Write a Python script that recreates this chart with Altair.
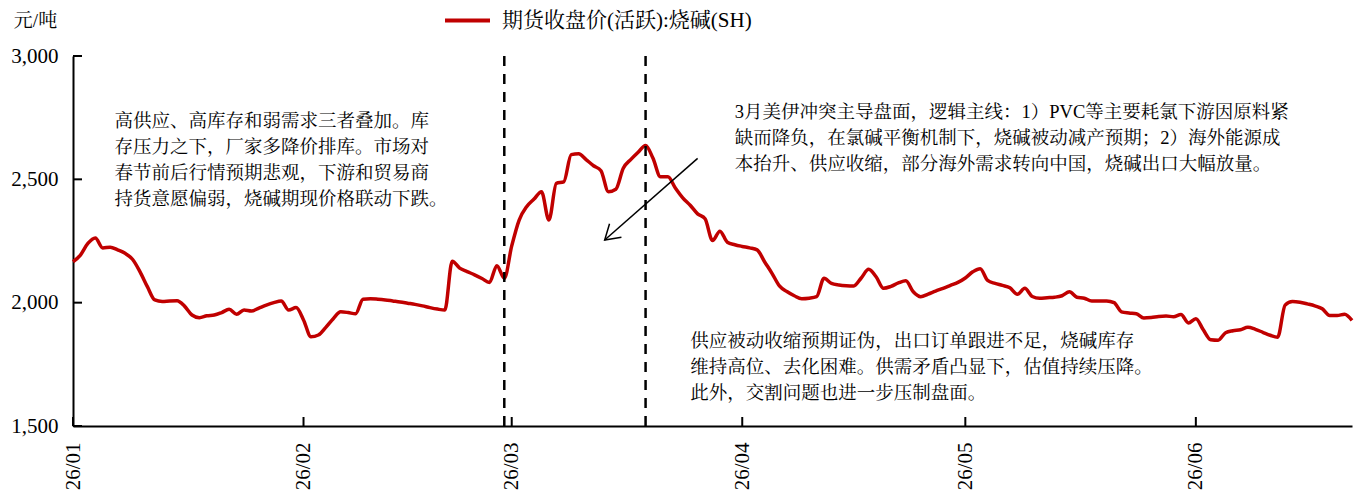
import altair as alt
import pandas as pd

# ---------------- data ----------------
start_date = "2026-01-01"
end_date = "2026-06-22"
prices = [
    # Jan
    2166, 2193, 2240, 2262, 2222, 2225, 2214, 2200, 2176, 2126,
    2065, 2011, 2005, 2007, 2008, 1986, 1950, 1939, 1947, 1950,
    1960, 1973, 1953, 1970, 1966, 1978, 1990, 2000, 2007, 1970,
    1980,
    # Feb
    1930, 1862, 1869, 1900, 1935, 1963, 1960, 1955, 2014, 2016,
    2014, 2011, 2007, 2003, 1998, 1993, 1987, 1980, 1974, 1970,
    2168, 2140, 2126, 2113, 2098, 2082, 2150, 2099,
    # Mar
    2230, 2335, 2389, 2420, 2450, 2335, 2484, 2490, 2600, 2604,
    2580, 2555, 2535, 2450, 2460, 2545, 2580, 2610, 2637, 2585,
    2510, 2510, 2465, 2425, 2395, 2360, 2340, 2252, 2290, 2245,
    2235,
    # Apr
    2228, 2222, 2214, 2166, 2119, 2068, 2045, 2028, 2016, 2018,
    2024, 2099, 2078, 2072, 2069, 2068, 2100, 2135, 2105, 2058,
    2066, 2080, 2089, 2044, 2024, 2035, 2047, 2058, 2070, 2082,
    # May
    2100, 2125, 2138, 2090, 2078, 2070, 2060, 2034, 2058, 2025,
    2018, 2020, 2022, 2028, 2044, 2022, 2018, 2007, 2007, 2007,
    2000, 1963, 1958, 1955, 1938, 1940, 1944, 1946, 1943, 1952,
    1918,
    # Jun
    1935, 1890, 1850, 1848, 1878, 1886, 1890, 1900, 1892, 1880,
    1868, 1860, 1990, 2005, 2002, 1995, 1987, 1975, 1948, 1948,
    1953, 1928,
]
series_name = "期货收盘价(活跃):烧碱(SH)"
y_ticks = [1500, 2000, 2500, 3000]
x_ticks = ["2026-01-01", "2026-02-01", "2026-03-01", "2026-04-01", "2026-05-01", "2026-06-01"]
event_dates = ["2026-02-28", "2026-03-19"]

notes = [
    "高供应、高库存和弱需求三者叠加。库\n存压力之下，厂家多降价排库。市场对\n春节前后行情预期悲观，下游和贸易商\n持货意愿偏弱，烧碱期现价格联动下跌。",
    "3月美伊冲突主导盘面，逻辑主线：1）PVC等主要耗氯下游因原料紧\n缺而降负，在氯碱平衡机制下，烧碱被动减产预期；2）海外能源成\n本抬升、供应收缩，部分海外需求转向中国，烧碱出口大幅放量。",
    "供应被动收缩预期证伪，出口订单跟进不足，烧碱库存\n维持高位、去化困难。供需矛盾凸显下，估值持续压降。\n此外，交割问题也进一步压制盘面。",
]
note_dates = ["2026-01-06 14:00", "2026-03-31 00:00", "2026-03-25 00:00"]
note_values = [2775, 2810, 1880]

arrow_from = ["2026-03-26 00:00", 2585]
arrow_to = ["2026-03-13 12:00", 2254]

# ---------------- tables ----------------
df = pd.DataFrame({
    "date": pd.date_range(start_date, end_date, freq="D"),
    "price": prices,
    "series": series_name,
})
ev_df = pd.DataFrame({"date": pd.to_datetime(event_dates)})
yt_df = pd.DataFrame({"price": y_ticks})
xt_df = pd.DataFrame({"date": pd.to_datetime(x_ticks)})
note_df = pd.DataFrame({"date": pd.to_datetime(note_dates), "price": note_values, "text": notes})
arrow_df = pd.DataFrame({
    "date": [pd.to_datetime(arrow_from[0])], "price": [arrow_from[1]],
    "date2": [pd.to_datetime(arrow_to[0])], "price2": [arrow_to[1]],
})
head_df = pd.DataFrame({"date": [pd.to_datetime(arrow_to[0])], "price": [arrow_to[1]]})

SERIF = "Liberation Serif, 'Noto Serif CJK SC', 'Noto Sans CJK SC'"
RED = "#C00000"

x_scale = alt.Scale(domain=[alt.DateTime(year=2026, month=1, date=1),
                            alt.DateTime(year=2026, month=6, date=22)], nice=False)
y_scale = alt.Scale(domain=[1500, 3000], nice=False)

x_axis = alt.Axis(
    values=[alt.DateTime(year=2026, month=m, date=1) for m in range(1, 7)],
    format="%y/%m", labelAngle=-90, labelPadding=16, labelFontSize=21, title=None,
)
y_axis = alt.Axis(
    values=y_ticks, format=",.0f", labelPadding=15, labelFontSize=21,
    title="元/吨", titleAngle=0, titleX=-38, titleY=-36,
    titleAlign="center", titleBaseline="middle",
    titleFontSize=19, titleFontWeight="normal", titleFont=SERIF,
)

line = alt.Chart(df).mark_line(strokeWidth=3.5, interpolate="monotone").encode(
    x=alt.X("date:T", scale=x_scale, axis=x_axis),
    y=alt.Y("price:Q", scale=y_scale, axis=y_axis),
    color=alt.Color("series:N", scale=alt.Scale(range=[RED]), legend=alt.Legend(
        orient="none", legendX=370, legendY=-60, title=None,
        symbolType="stroke", symbolSize=2025, symbolStrokeWidth=4,
        labelFontSize=21, labelFont=SERIF, labelOffset=10, padding=0,
        labelColor="black", labelLimit=500,
    )),
)

events = alt.Chart(ev_df).mark_rule(color="black", strokeWidth=2.5, strokeDash=[10, 8]).encode(
    x=alt.X("date:T", title=None),
)

yticks = alt.Chart(yt_df).mark_rule(color="black", strokeWidth=2).encode(
    y=alt.Y("price:Q"), x=alt.value(0), x2=alt.value(9),
)
xticks = alt.Chart(xt_df).mark_rule(color="black", strokeWidth=2).encode(
    x=alt.X("date:T", title=None), y=alt.value(370), y2=alt.value(361),
)

arrow = alt.Chart(arrow_df).mark_rule(color="black", strokeWidth=1.5).encode(
    x=alt.X("date:T", title=None), y=alt.Y("price:Q"), x2="date2:T", y2="price2:Q",
)
head = alt.Chart(head_df).mark_point(
    shape="M -0.625 1 L 0 0 L 0.625 1", angle=228.6, size=830,
    filled=False, color="black", strokeWidth=1.5, opacity=1,
).encode(x=alt.X("date:T", title=None), y=alt.Y("price:Q"))

texts = alt.Chart(note_df).mark_text(
    align="left", baseline="top", lineBreak="\n", lineHeight=26,
    fontSize=18.5, font=SERIF, color="black",
).encode(x=alt.X("date:T", title=None), y=alt.Y("price:Q"), text="text:N")

chart = alt.layer(line, events, yticks, xticks, arrow, head, texts).properties(
    width=1279, height=370,
    padding={"left": 65, "top": 48, "right": 2, "bottom": 64},
    autosize=alt.AutoSizeParams(type="none"),
    background="white",
).configure_view(stroke=None).configure_axis(
    domainColor="black", domainWidth=2, grid=False, ticks=False, tickSize=0,
    labelColor="black", labelFont="Liberation Serif", labelFontSize=21,
    titleColor="black",
)

chart.save("out.html", embed_options={"renderer": "svg", "actions": False})
